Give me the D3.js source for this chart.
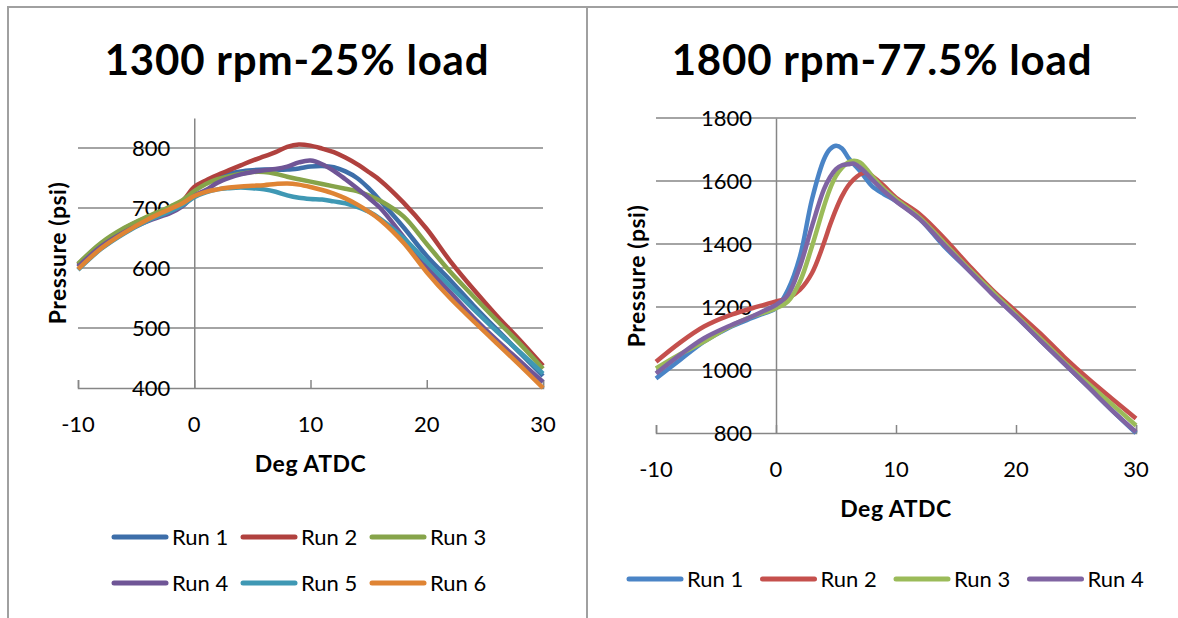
<!DOCTYPE html>
<html>
<head>
<meta charset="utf-8">
<script src="https://cdn.jsdelivr.net/npm/d3@7"></script>
<style>
  body { margin: 0; background: #ffffff; }
  text { font-family: Lato, "Liberation Sans", sans-serif; fill: #000; }
</style>
</head>
<body>
<svg id="chart"></svg>
<script>
let outerWidth = 1178;
let outerHeight = 618;

// ---- left panel: 1300 rpm / 25% load ----
let leftTitle = '1300 rpm-25% load';
let leftDeg = [-10, -8, -6, -4, -2, -1, 0, 1, 2, 3, 4, 5, 6, 7, 8, 9, 10, 11, 12, 13, 14, 15, 16, 18, 20, 22, 24, 26, 28, 30];
let leftRun1 = [604, 638, 664, 683, 697, 708, 730, 743, 751, 757, 761, 763, 764, 764, 764, 766, 769, 770, 768, 761, 750, 733, 712, 668, 620, 580, 538, 498, 459, 420];
let leftRun2 = [606, 640, 666, 685, 700, 712, 735, 746, 755, 763, 771, 779, 786, 793, 802, 806, 804, 799, 793, 784, 773, 760, 746, 709, 665, 612, 565, 521, 480, 437];
let leftRun3 = [607, 642, 667, 686, 703, 713, 728, 740, 748, 753, 757, 760, 760, 757, 752, 748, 744, 740, 736, 732, 728, 721, 712, 686, 640, 594, 553, 513, 474, 432];
let leftRun4 = [602, 636, 660, 678, 692, 703, 720, 730, 742, 750, 756, 760, 763, 765, 769, 776, 779, 773, 762, 748, 733, 717, 700, 652, 602, 560, 518, 480, 445, 410];
let leftRun5 = [597, 632, 658, 679, 695, 705, 718, 726, 731, 733, 734, 733, 731, 727, 721, 717, 715, 714, 711, 708, 702, 694, 682, 650, 610, 570, 532, 495, 460, 424];
let leftRun6 = [598, 633, 659, 681, 699, 708, 720, 727, 731, 734, 736, 737, 738, 740, 741, 739, 735, 730, 724, 716, 706, 694, 680, 642, 593, 550, 512, 475, 438, 400];
let leftNames = ['Run 1', 'Run 2', 'Run 3', 'Run 4', 'Run 5', 'Run 6'];
let leftColors = ['#3d6ea9', '#b0413e', '#86a44a', '#6f5596', '#3f98b4', '#df8434'];
let leftYTicks = [400, 500, 600, 700, 800];

// ---- right panel: 1800 rpm / 77.5% load ----
let rightTitle = '1800 rpm-77.5% load';
let rightDeg = [-10, -8, -6, -4, -2, -1, 0, 1, 2, 3, 4, 4.5, 5, 5.5, 6, 6.5, 7, 7.5, 8, 9, 10, 12, 14, 16, 18, 20, 22, 24, 26, 28, 30];
let rightRun1 = [973, 1032, 1090, 1133, 1165, 1180, 1196, 1255, 1361, 1542, 1669, 1701, 1712, 1703, 1675, 1652, 1632, 1607, 1584, 1558, 1536, 1478, 1393, 1319, 1244, 1170, 1095, 1021, 947, 872, 800];
let rightRun2 = [1026, 1087, 1138, 1172, 1196, 1207, 1218, 1228, 1255, 1308, 1404, 1460, 1510, 1552, 1584, 1606, 1621, 1627, 1616, 1584, 1547, 1494, 1419, 1335, 1255, 1186, 1117, 1042, 973, 909, 846];
let rightRun3 = [1005, 1050, 1090, 1135, 1170, 1182, 1196, 1218, 1281, 1393, 1520, 1575, 1616, 1642, 1659, 1664, 1659, 1640, 1616, 1574, 1542, 1483, 1404, 1324, 1250, 1175, 1101, 1026, 957, 891, 824];
let rightRun4 = [989, 1048, 1101, 1138, 1170, 1188, 1207, 1239, 1329, 1457, 1574, 1612, 1638, 1650, 1653, 1655, 1643, 1625, 1605, 1568, 1536, 1478, 1398, 1319, 1242, 1170, 1095, 1021, 947, 872, 803];
let rightNames = ['Run 1', 'Run 2', 'Run 3', 'Run 4'];
let rightColors = ['#4a84c6', '#c5504d', '#9bbb59', '#8064a2'];
let rightYTicks = [800, 1000, 1200, 1400, 1600, 1800];

let xTicks = [-10, 0, 10, 20, 30];

let svg = d3.select('#chart')
  .attr('width', outerWidth)
  .attr('height', outerHeight);

// table-like frame around the two panels
svg.append('line').attr('x1', 7).attr('x2', outerWidth).attr('y1', 7).attr('y2', 7)
  .attr('stroke', '#a0a0a0').attr('stroke-width', 2);
svg.append('line').attr('x1', 8).attr('x2', 8).attr('y1', 6).attr('y2', outerHeight)
  .attr('stroke', '#a0a0a0').attr('stroke-width', 2);
svg.append('line').attr('x1', 587).attr('x2', 587).attr('y1', 6).attr('y2', outerHeight)
  .attr('stroke', '#a0a0a0').attr('stroke-width', 2);

function drawPanel(p) {
  let xScale = d3.scaleLinear().domain([-10, 30]).range([p.left, p.right]);
  let yScale = d3.scaleLinear().domain(p.yDomain).range([p.bottom, p.top]);
  let g = svg.append('g');

  // title
  g.append('text')
    .attr('x', p.titleX)
    .attr('y', 75)
    .attr('text-anchor', 'middle')
    .style('font-size', '42px')
    .style('font-weight', 'bold')
    .style('letter-spacing', '0.8px')
    .text(p.title);

  // gridlines
  g.selectAll('line.grid')
    .data(p.yTicks.slice(1))
    .enter()
    .append('line')
    .attr('class', 'grid')
    .attr('x1', p.left)
    .attr('x2', p.right)
    .attr('y1', d => yScale(d))
    .attr('y2', d => yScale(d))
    .attr('stroke', '#868686')
    .attr('stroke-width', 1.5);

  // x axis (ticks pointing up into the plot)
  let xAxis = d3.axisTop(xScale).tickValues(xTicks).tickSize(8).tickFormat('');
  let xg = g.append('g')
    .attr('transform', 'translate(0,' + yScale(p.yDomain[0]) + ')')
    .call(xAxis);
  xg.selectAll('path, line').attr('stroke', '#868686').attr('stroke-width', 1.5);

  g.selectAll('text.xlab')
    .data(xTicks)
    .enter()
    .append('text')
    .attr('class', 'xlab')
    .attr('x', d => xScale(d))
    .attr('y', p.bottom + 44)
    .attr('text-anchor', 'middle')
    .style('font-size', '22px')
    .text(d => d);

  // y axis sits at 0 deg
  let yAxis = d3.axisLeft(yScale).tickValues([]).tickSize(0);
  let yg = g.append('g')
    .attr('transform', 'translate(' + xScale(0) + ',0)')
    .call(yAxis);
  yg.selectAll('path').attr('stroke', '#868686').attr('stroke-width', 1.5);

  g.selectAll('text.ylab')
    .data(p.yTicks)
    .enter()
    .append('text')
    .attr('class', 'ylab')
    .attr('x', xScale(0) - 24)
    .attr('y', d => yScale(d) + 8)
    .attr('text-anchor', 'end')
    .style('font-size', '22px')
    .text(d => d);

  // axis titles
  g.append('text')
    .attr('x', (p.left + p.right) / 2)
    .attr('y', p.bottom + 84)
    .attr('text-anchor', 'middle')
    .style('font-size', '23px')
    .style('font-weight', 'bold')
    .style('letter-spacing', '0.5px')
    .text('Deg ATDC');

  g.append('text')
    .attr('transform', 'translate(' + p.yTitleX + ',' + p.yTitleY + ') rotate(-90)')
    .attr('text-anchor', 'middle')
    .style('font-size', '23px')
    .style('font-weight', 'bold')
    .style('letter-spacing', '0.5px')
    .text('Pressure (psi)');

  // runs
  let lineGen = d3.line()
    .x(d => xScale(d[0]))
    .y(d => yScale(d[1]))
    .curve(d3.curveCatmullRom.alpha(0.5));

  p.series.forEach((vals, i) => {
    g.append('path')
      .attr('d', lineGen(p.deg.map((x, j) => [x, vals[j]])))
      .attr('fill', 'none')
      .attr('stroke', p.colors[i])
      .attr('stroke-width', 4.5)
      .attr('stroke-linejoin', 'round');
  });

  // legend
  p.names.forEach((name, i) => {
    let col = i % p.legendCols;
    let row = Math.floor(i / p.legendCols);
    let lx = p.legendX + col * p.legendStep;
    let ly = p.legendY + row * 46;
    g.append('line')
      .attr('x1', lx).attr('x2', lx + 52)
      .attr('y1', ly).attr('y2', ly)
      .attr('stroke', p.colors[i])
      .attr('stroke-width', 5)
      .attr('stroke-linecap', 'round');
    g.append('text')
      .attr('x', lx + 58)
      .attr('y', ly + 8)
      .style('font-size', '22px')
      .text(name);
  });
}

drawPanel({
  title: leftTitle, titleX: 297,
  left: 78, right: 543, top: 118, bottom: 388,
  yDomain: [400, 850], yTicks: leftYTicks,
  deg: leftDeg,
  series: [leftRun1, leftRun2, leftRun3, leftRun4, leftRun5, leftRun6],
  names: leftNames, colors: leftColors,
  yTitleX: 66, yTitleY: 253,
  legendX: 114, legendY: 537, legendCols: 3, legendStep: 129
});

drawPanel({
  title: rightTitle, titleX: 882,
  left: 656, right: 1136, top: 118, bottom: 433,
  yDomain: [800, 1800], yTicks: rightYTicks,
  deg: rightDeg,
  series: [rightRun1, rightRun2, rightRun3, rightRun4],
  names: rightNames, colors: rightColors,
  yTitleX: 645, yTitleY: 276,
  legendX: 629, legendY: 579, legendCols: 4, legendStep: 133.5
});
</script>
</body>
</html>
